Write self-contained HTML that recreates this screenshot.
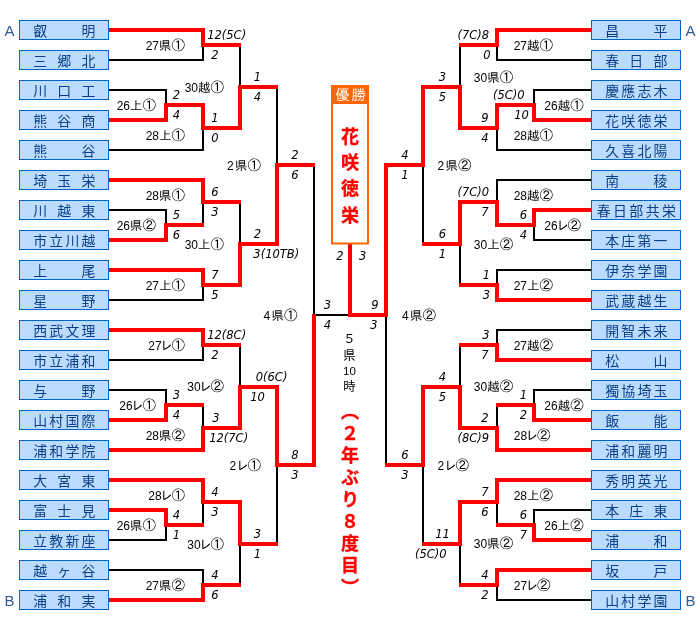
<!DOCTYPE html>
<html lang="ja"><head><meta charset="utf-8"><title>トーナメント表</title>
<style>
html,body{margin:0;padding:0;background:#fff}
body{width:700px;height:630px;position:relative;overflow:hidden;font-family:"Liberation Sans","Noto Sans CJK JP",sans-serif}
svg{position:absolute;left:0;top:0;display:block;will-change:transform}
svg text{font-family:"Liberation Sans","Noto Sans CJK JP",sans-serif}
.bx rect{fill:#bbdcff;stroke:#0066cc;stroke-width:1}
.nm text{font-size:13.9px;fill:#0b3f86;text-anchor:middle}
.ab text{font-size:15px;fill:#2a5c9a;text-anchor:middle}
.lb text{font-family:"IPAGothic","Liberation Sans","Noto Sans CJK JP",sans-serif;font-size:12.5px;fill:#000}
.lb .d{font-family:"Liberation Sans",sans-serif;font-size:12px}
.lb .c{font-size:13.5px}
.sc text{font-family:"DejaVu Sans","Liberation Sans",sans-serif;font-style:italic;font-size:11.5px;fill:#000}
.yu{font-family:"IPAGothic","Noto Sans CJK JP",sans-serif;font-size:14.5px;fill:#fff}
.ch{font-size:18px;font-weight:bold;fill:#ff0000;stroke:#ff0000;stroke-width:0.3px}
.v1{font-family:"Noto Sans CJK JP",sans-serif;font-size:12.3px;fill:#000}
.v1 .d{font-family:"Liberation Sans",sans-serif;font-size:11.5px}
.v2{will-change:transform;position:absolute;left:337.3px;top:401.9px;width:22px;height:200px;writing-mode:vertical-rl;font-size:18px;font-weight:bold;line-height:22px;letter-spacing:4.05px;color:#ff0000;white-space:nowrap;-webkit-text-stroke:0.3px #ff0000}
</style></head><body>
<svg width="700" height="630" viewBox="0 0 700 630">
<g fill="#000" shape-rendering="crispEdges">
<rect x="109" y="59" width="95" height="2"/>
<rect x="202" y="44" width="2" height="17"/>
<rect x="109" y="89" width="58" height="2"/>
<rect x="165" y="89" width="2" height="17"/>
<rect x="109" y="149" width="95" height="2"/>
<rect x="202" y="127" width="2" height="24"/>
<rect x="239" y="44" width="2" height="43.5"/>
<rect x="109" y="209" width="58" height="2"/>
<rect x="165" y="209" width="2" height="17"/>
<rect x="202" y="201" width="2" height="25"/>
<rect x="109" y="299" width="95" height="2"/>
<rect x="202" y="284" width="2" height="17"/>
<rect x="239" y="201" width="2" height="43.5"/>
<rect x="276" y="85.5" width="2" height="80.5"/>
<rect x="109" y="359" width="95" height="2"/>
<rect x="202" y="344" width="2" height="17"/>
<rect x="109" y="389" width="58" height="2"/>
<rect x="165" y="389" width="2" height="17"/>
<rect x="202" y="404" width="2" height="25"/>
<rect x="239" y="344" width="2" height="43.5"/>
<rect x="109" y="539" width="58" height="2"/>
<rect x="165" y="524" width="2" height="17"/>
<rect x="202" y="501" width="2" height="25"/>
<rect x="109" y="569" width="95" height="2"/>
<rect x="202" y="569" width="2" height="17"/>
<rect x="239" y="542.5" width="2" height="43.5"/>
<rect x="276" y="464" width="2" height="80.5"/>
<rect x="313" y="164" width="2" height="152"/>
<rect x="496" y="59" width="95" height="2"/>
<rect x="496" y="44" width="2" height="17"/>
<rect x="533" y="89" width="58" height="2"/>
<rect x="533" y="89" width="2" height="17"/>
<rect x="496" y="149" width="95" height="2"/>
<rect x="496" y="127" width="2" height="24"/>
<rect x="459" y="44" width="2" height="43.5"/>
<rect x="533" y="239" width="58" height="2"/>
<rect x="533" y="224" width="2" height="17"/>
<rect x="496" y="179" width="95" height="2"/>
<rect x="496" y="179" width="2" height="24"/>
<rect x="496" y="269" width="95" height="2"/>
<rect x="496" y="269" width="2" height="17"/>
<rect x="459" y="242.5" width="2" height="43.5"/>
<rect x="422" y="164" width="2" height="80.5"/>
<rect x="496" y="329" width="95" height="2"/>
<rect x="496" y="329" width="2" height="17"/>
<rect x="533" y="389" width="58" height="2"/>
<rect x="533" y="389" width="2" height="17"/>
<rect x="496" y="404" width="2" height="25"/>
<rect x="459" y="344" width="2" height="43.5"/>
<rect x="533" y="509" width="58" height="2"/>
<rect x="533" y="509" width="2" height="17"/>
<rect x="496" y="501" width="2" height="25"/>
<rect x="496" y="599" width="95" height="2"/>
<rect x="496" y="584" width="2" height="17"/>
<rect x="459" y="542.5" width="2" height="43.5"/>
<rect x="422" y="464" width="2" height="80.5"/>
<rect x="385" y="314" width="2" height="152"/>
<rect x="314" y="314" width="36" height="2"/>
</g><g fill="#f00" shape-rendering="crispEdges">
<rect x="109" y="28" width="96" height="4"/>
<rect x="201" y="28" width="4" height="19"/>
<rect x="109" y="118" width="59" height="4"/>
<rect x="164" y="103" width="4" height="19"/>
<rect x="166" y="103" width="39" height="4"/>
<rect x="201" y="103" width="4" height="27"/>
<rect x="203" y="43" width="38" height="4"/>
<rect x="203" y="126" width="39" height="4"/>
<rect x="238" y="84.5" width="4" height="45.5"/>
<rect x="109" y="238" width="59" height="4"/>
<rect x="164" y="223" width="4" height="19"/>
<rect x="109" y="178" width="96" height="4"/>
<rect x="201" y="178" width="4" height="26"/>
<rect x="166" y="223" width="38" height="4"/>
<rect x="109" y="268" width="96" height="4"/>
<rect x="201" y="268" width="4" height="19"/>
<rect x="203" y="200" width="38" height="4"/>
<rect x="203" y="283" width="39" height="4"/>
<rect x="238" y="241.5" width="4" height="45.5"/>
<rect x="240" y="84.5" width="38" height="4"/>
<rect x="240" y="241.5" width="39" height="4"/>
<rect x="275" y="163" width="4" height="82.5"/>
<rect x="109" y="328" width="96" height="4"/>
<rect x="201" y="328" width="4" height="19"/>
<rect x="109" y="418" width="59" height="4"/>
<rect x="164" y="403" width="4" height="19"/>
<rect x="166" y="403" width="38" height="4"/>
<rect x="109" y="448" width="96" height="4"/>
<rect x="201" y="426" width="4" height="26"/>
<rect x="203" y="343" width="38" height="4"/>
<rect x="203" y="426" width="39" height="4"/>
<rect x="238" y="384.5" width="4" height="45.5"/>
<rect x="109" y="508" width="59" height="4"/>
<rect x="164" y="508" width="4" height="19"/>
<rect x="109" y="478" width="96" height="4"/>
<rect x="201" y="478" width="4" height="26"/>
<rect x="166" y="523" width="38" height="4"/>
<rect x="109" y="598" width="96" height="4"/>
<rect x="201" y="583" width="4" height="19"/>
<rect x="203" y="500" width="39" height="4"/>
<rect x="238" y="500" width="4" height="45.5"/>
<rect x="203" y="583" width="38" height="4"/>
<rect x="240" y="384.5" width="39" height="4"/>
<rect x="275" y="384.5" width="4" height="82.5"/>
<rect x="240" y="541.5" width="38" height="4"/>
<rect x="277" y="163" width="38" height="4"/>
<rect x="277" y="463" width="39" height="4"/>
<rect x="312" y="314" width="4" height="153"/>
<rect x="495" y="28" width="96" height="4"/>
<rect x="495" y="28" width="4" height="19"/>
<rect x="532" y="118" width="59" height="4"/>
<rect x="532" y="103" width="4" height="19"/>
<rect x="495" y="103" width="39" height="4"/>
<rect x="495" y="103" width="4" height="27"/>
<rect x="459" y="43" width="38" height="4"/>
<rect x="458" y="126" width="39" height="4"/>
<rect x="458" y="84.5" width="4" height="45.5"/>
<rect x="532" y="208" width="59" height="4"/>
<rect x="532" y="208" width="4" height="19"/>
<rect x="495" y="223" width="39" height="4"/>
<rect x="495" y="200" width="4" height="27"/>
<rect x="495" y="298" width="96" height="4"/>
<rect x="495" y="283" width="4" height="19"/>
<rect x="458" y="200" width="39" height="4"/>
<rect x="458" y="200" width="4" height="45.5"/>
<rect x="459" y="283" width="38" height="4"/>
<rect x="421" y="84.5" width="39" height="4"/>
<rect x="421" y="84.5" width="4" height="82.5"/>
<rect x="422" y="241.5" width="38" height="4"/>
<rect x="495" y="358" width="96" height="4"/>
<rect x="495" y="343" width="4" height="19"/>
<rect x="532" y="418" width="59" height="4"/>
<rect x="532" y="403" width="4" height="19"/>
<rect x="496" y="403" width="38" height="4"/>
<rect x="495" y="448" width="96" height="4"/>
<rect x="495" y="426" width="4" height="26"/>
<rect x="459" y="343" width="38" height="4"/>
<rect x="458" y="426" width="39" height="4"/>
<rect x="458" y="384.5" width="4" height="45.5"/>
<rect x="532" y="538" width="59" height="4"/>
<rect x="532" y="523" width="4" height="19"/>
<rect x="495" y="478" width="96" height="4"/>
<rect x="495" y="478" width="4" height="26"/>
<rect x="496" y="523" width="38" height="4"/>
<rect x="495" y="568" width="96" height="4"/>
<rect x="495" y="568" width="4" height="19"/>
<rect x="458" y="500" width="39" height="4"/>
<rect x="458" y="500" width="4" height="45.5"/>
<rect x="459" y="583" width="38" height="4"/>
<rect x="421" y="384.5" width="39" height="4"/>
<rect x="421" y="384.5" width="4" height="82.5"/>
<rect x="422" y="541.5" width="38" height="4"/>
<rect x="384" y="163" width="39" height="4"/>
<rect x="384" y="163" width="4" height="154"/>
<rect x="385" y="463" width="38" height="4"/>
<rect x="348" y="313" width="40" height="4"/>
<rect x="348" y="244" width="4" height="73"/>
</g>
<g class="bx">
<rect x="19.5" y="20.5" width="89" height="19"/>
<rect x="591.5" y="20.5" width="89" height="19"/>
<rect x="19.5" y="50.5" width="89" height="19"/>
<rect x="591.5" y="50.5" width="89" height="19"/>
<rect x="19.5" y="80.5" width="89" height="19"/>
<rect x="591.5" y="80.5" width="89" height="19"/>
<rect x="19.5" y="110.5" width="89" height="19"/>
<rect x="591.5" y="110.5" width="89" height="19"/>
<rect x="19.5" y="140.5" width="89" height="19"/>
<rect x="591.5" y="140.5" width="89" height="19"/>
<rect x="19.5" y="170.5" width="89" height="19"/>
<rect x="591.5" y="170.5" width="89" height="19"/>
<rect x="19.5" y="200.5" width="89" height="19"/>
<rect x="591.5" y="200.5" width="89" height="19"/>
<rect x="19.5" y="230.5" width="89" height="19"/>
<rect x="591.5" y="230.5" width="89" height="19"/>
<rect x="19.5" y="260.5" width="89" height="19"/>
<rect x="591.5" y="260.5" width="89" height="19"/>
<rect x="19.5" y="290.5" width="89" height="19"/>
<rect x="591.5" y="290.5" width="89" height="19"/>
<rect x="19.5" y="320.5" width="89" height="19"/>
<rect x="591.5" y="320.5" width="89" height="19"/>
<rect x="19.5" y="350.5" width="89" height="19"/>
<rect x="591.5" y="350.5" width="89" height="19"/>
<rect x="19.5" y="380.5" width="89" height="19"/>
<rect x="591.5" y="380.5" width="89" height="19"/>
<rect x="19.5" y="410.5" width="89" height="19"/>
<rect x="591.5" y="410.5" width="89" height="19"/>
<rect x="19.5" y="440.5" width="89" height="19"/>
<rect x="591.5" y="440.5" width="89" height="19"/>
<rect x="19.5" y="470.5" width="89" height="19"/>
<rect x="591.5" y="470.5" width="89" height="19"/>
<rect x="19.5" y="500.5" width="89" height="19"/>
<rect x="591.5" y="500.5" width="89" height="19"/>
<rect x="19.5" y="530.5" width="89" height="19"/>
<rect x="591.5" y="530.5" width="89" height="19"/>
<rect x="19.5" y="560.5" width="89" height="19"/>
<rect x="591.5" y="560.5" width="89" height="19"/>
<rect x="19.5" y="590.5" width="89" height="19"/>
<rect x="591.5" y="590.5" width="89" height="19"/>
</g>
<g class="nm">
<text x="40.15 88.45" y="35.7">叡明</text>
<text x="612.15 660.45" y="35.7">昌平</text>
<text x="40.15 64.3 88.45" y="65.7">三郷北</text>
<text x="612.15 636.3 660.45" y="65.7">春日部</text>
<text x="40.15 64.3 88.45" y="95.7">川口工</text>
<text x="612.15 628.25 644.35 660.45" y="95.7">慶應志木</text>
<text x="40.15 64.3 88.45" y="125.7">熊谷商</text>
<text x="612.15 628.25 644.35 660.45" y="125.7">花咲徳栄</text>
<text x="40.15 88.45" y="155.7">熊谷</text>
<text x="612.15 628.25 644.35 660.45" y="155.7">久喜北陽</text>
<text x="40.15 64.3 88.45" y="185.7">埼玉栄</text>
<text x="612.15 660.45" y="185.7">南稜</text>
<text x="40.15 64.3 88.45" y="215.7">川越東</text>
<text x="603.7 620 636.3 652.6 668.9" y="215.7">春日部共栄</text>
<text x="40.15 56.25 72.35 88.45" y="245.7">市立川越</text>
<text x="612.15 628.25 644.35 660.45" y="245.7">本庄第一</text>
<text x="40.15 88.45" y="275.7">上尾</text>
<text x="612.15 628.25 644.35 660.45" y="275.7">伊奈学園</text>
<text x="40.15 88.45" y="305.7">星野</text>
<text x="612.15 628.25 644.35 660.45" y="305.7">武蔵越生</text>
<text x="40.15 56.25 72.35 88.45" y="335.7">西武文理</text>
<text x="612.15 628.25 644.35 660.45" y="335.7">開智未来</text>
<text x="40.15 56.25 72.35 88.45" y="365.7">市立浦和</text>
<text x="612.15 660.45" y="365.7">松山</text>
<text x="40.15 88.45" y="395.7">与野</text>
<text x="612.15 628.25 644.35 660.45" y="395.7">獨協埼玉</text>
<text x="40.15 56.25 72.35 88.45" y="425.7">山村国際</text>
<text x="612.15 660.45" y="425.7">飯能</text>
<text x="40.15 56.25 72.35 88.45" y="455.7">浦和学院</text>
<text x="612.15 628.25 644.35 660.45" y="455.7">浦和麗明</text>
<text x="40.15 64.3 88.45" y="485.7">大宮東</text>
<text x="612.15 628.25 644.35 660.45" y="485.7">秀明英光</text>
<text x="40.15 64.3 88.45" y="515.7">富士見</text>
<text x="612.15 636.3 660.45" y="515.7">本庄東</text>
<text x="40.15 56.25 72.35 88.45" y="545.7">立教新座</text>
<text x="612.15 660.45" y="545.7">浦和</text>
<text x="40.15 64.3 88.45" y="575.7">越ヶ谷</text>
<text x="612.15 660.45" y="575.7">坂戸</text>
<text x="40.15 64.3 88.45" y="605.7">浦和実</text>
<text x="612.15 628.25 644.35 660.45" y="605.7">山村学園</text>
</g>
<g class="ab"><text x="9.4" y="36">A</text><text x="690.5" y="36">A</text><text x="9.4" y="606">B</text><text x="690.5" y="606">B</text></g>
<g class="lb">
<text x="185" y="49.5" text-anchor="end"><tspan class="d">27</tspan>県<tspan class="c">①</tspan></text>
<text x="156" y="109.5" text-anchor="end"><tspan class="d">26</tspan>上<tspan class="c">①</tspan></text>
<text x="185" y="139.5" text-anchor="end"><tspan class="d">28</tspan>上<tspan class="c">①</tspan></text>
<text x="224" y="92" text-anchor="end"><tspan class="d">30</tspan>越<tspan class="c">①</tspan></text>
<text x="156" y="229.5" text-anchor="end"><tspan class="d">26</tspan>県<tspan class="c">②</tspan></text>
<text x="185" y="199.5" text-anchor="end"><tspan class="d">28</tspan>県<tspan class="c">①</tspan></text>
<text x="185" y="289.5" text-anchor="end"><tspan class="d">27</tspan>上<tspan class="c">①</tspan></text>
<text x="224" y="249" text-anchor="end"><tspan class="d">30</tspan>上<tspan class="c">①</tspan></text>
<text x="261" y="169.5" text-anchor="end" dx="0 1.4 0"><tspan class="d">2</tspan>県<tspan class="c">①</tspan></text>
<text x="185" y="349.5" text-anchor="end" dx="0 0 -1.3 -1.3"><tspan class="d">27</tspan>レ<tspan class="c">①</tspan></text>
<text x="156" y="409.5" text-anchor="end" dx="0 0 -1.3 -1.3"><tspan class="d">26</tspan>レ<tspan class="c">①</tspan></text>
<text x="185" y="439.5" text-anchor="end"><tspan class="d">28</tspan>県<tspan class="c">②</tspan></text>
<text x="224" y="391" text-anchor="end" dx="0 0 -1.3 -1.3"><tspan class="d">30</tspan>レ<tspan class="c">②</tspan></text>
<text x="156" y="529.5" text-anchor="end"><tspan class="d">26</tspan>県<tspan class="c">①</tspan></text>
<text x="185" y="499.5" text-anchor="end" dx="0 0 -1.3 -1.3"><tspan class="d">28</tspan>レ<tspan class="c">①</tspan></text>
<text x="185" y="589.5" text-anchor="end"><tspan class="d">27</tspan>県<tspan class="c">②</tspan></text>
<text x="224" y="549" text-anchor="end" dx="0 0 -1.3 -1.3"><tspan class="d">30</tspan>レ<tspan class="c">①</tspan></text>
<text x="261" y="469.5" text-anchor="end" dx="0 0.1 -1.3"><tspan class="d">2</tspan>レ<tspan class="c">①</tspan></text>
<text x="297.5" y="319.5" text-anchor="end" dx="0 1.4 0"><tspan class="d">4</tspan>県<tspan class="c">①</tspan></text>
<text x="513.7" y="49.5" text-anchor="start"><tspan class="d">27</tspan>越<tspan class="c">①</tspan></text>
<text x="544.3" y="109.5" text-anchor="start"><tspan class="d">26</tspan>越<tspan class="c">①</tspan></text>
<text x="513.7" y="139.5" text-anchor="start"><tspan class="d">28</tspan>越<tspan class="c">①</tspan></text>
<text x="473.8" y="82" text-anchor="start"><tspan class="d">30</tspan>県<tspan class="c">①</tspan></text>
<text x="544.3" y="229.5" text-anchor="start" dx="0 0 -1.3 -1.3"><tspan class="d">26</tspan>レ<tspan class="c">②</tspan></text>
<text x="513.7" y="199.5" text-anchor="start"><tspan class="d">28</tspan>越<tspan class="c">②</tspan></text>
<text x="513.7" y="289.5" text-anchor="start"><tspan class="d">27</tspan>上<tspan class="c">②</tspan></text>
<text x="473.8" y="249" text-anchor="start"><tspan class="d">30</tspan>上<tspan class="c">②</tspan></text>
<text x="437.5" y="169.5" text-anchor="start" dx="0 1.4 0"><tspan class="d">2</tspan>県<tspan class="c">②</tspan></text>
<text x="513.7" y="349.5" text-anchor="start"><tspan class="d">27</tspan>越<tspan class="c">②</tspan></text>
<text x="544.3" y="409.5" text-anchor="start"><tspan class="d">26</tspan>越<tspan class="c">②</tspan></text>
<text x="513.7" y="439.5" text-anchor="start" dx="0 0 -1.3 -1.3"><tspan class="d">28</tspan>レ<tspan class="c">②</tspan></text>
<text x="473.8" y="391" text-anchor="start"><tspan class="d">30</tspan>越<tspan class="c">②</tspan></text>
<text x="544.3" y="529.5" text-anchor="start"><tspan class="d">26</tspan>上<tspan class="c">②</tspan></text>
<text x="513.7" y="499.5" text-anchor="start"><tspan class="d">28</tspan>上<tspan class="c">②</tspan></text>
<text x="513.7" y="589.5" text-anchor="start" dx="0 0 -1.3 -1.3"><tspan class="d">27</tspan>レ<tspan class="c">②</tspan></text>
<text x="473.8" y="548" text-anchor="start"><tspan class="d">30</tspan>県<tspan class="c">②</tspan></text>
<text x="437.5" y="469.5" text-anchor="start" dx="0 0.1 -1.3"><tspan class="d">2</tspan>レ<tspan class="c">②</tspan></text>
<text x="402" y="319.5" text-anchor="start" dx="0 1.4 0"><tspan class="d">4</tspan>県<tspan class="c">②</tspan></text>
</g>
<g class="sc">
<text x="207.2" y="39" text-anchor="start">12(5C)</text>
<text x="215" y="59" text-anchor="middle">2</text>
<text x="176.5" y="99" text-anchor="middle">2</text>
<text x="176.5" y="119" text-anchor="middle">4</text>
<text x="215" y="122" text-anchor="middle">1</text>
<text x="215" y="142" text-anchor="middle">0</text>
<text x="257.5" y="80.5" text-anchor="middle">1</text>
<text x="257.5" y="100.5" text-anchor="middle">4</text>
<text x="176.5" y="219" text-anchor="middle">5</text>
<text x="176.5" y="239" text-anchor="middle">6</text>
<text x="215" y="196" text-anchor="middle">6</text>
<text x="215" y="216" text-anchor="middle">3</text>
<text x="215" y="279" text-anchor="middle">7</text>
<text x="215" y="299" text-anchor="middle">5</text>
<text x="257.5" y="237.5" text-anchor="middle">2</text>
<text x="253.35" y="257.5" text-anchor="start">3(10TB)</text>
<text x="295" y="159" text-anchor="middle">2</text>
<text x="295" y="179" text-anchor="middle">6</text>
<text x="207.2" y="339" text-anchor="start">12(8C)</text>
<text x="215" y="359" text-anchor="middle">2</text>
<text x="176.5" y="399" text-anchor="middle">3</text>
<text x="176.5" y="419" text-anchor="middle">4</text>
<text x="216" y="422" text-anchor="middle">3</text>
<text x="209.2" y="442" text-anchor="start">12(7C)</text>
<text x="255.75" y="380.5" text-anchor="start">0(6C)</text>
<text x="257.5" y="400.5" text-anchor="middle">10</text>
<text x="176.5" y="519" text-anchor="middle">4</text>
<text x="176.5" y="539" text-anchor="middle">1</text>
<text x="215" y="496" text-anchor="middle">4</text>
<text x="215" y="516" text-anchor="middle">3</text>
<text x="215" y="579" text-anchor="middle">4</text>
<text x="215" y="599" text-anchor="middle">6</text>
<text x="257.5" y="537.5" text-anchor="middle">3</text>
<text x="257.5" y="557.5" text-anchor="middle">1</text>
<text x="295" y="459" text-anchor="middle">8</text>
<text x="295" y="479" text-anchor="middle">3</text>
<text x="327.5" y="309" text-anchor="middle">3</text>
<text x="327.5" y="329" text-anchor="middle">4</text>
<text x="489.15" y="39" text-anchor="end">(7C)8</text>
<text x="487" y="59" text-anchor="middle">0</text>
<text x="524.65" y="99" text-anchor="end">(5C)0</text>
<text x="521.5" y="119" text-anchor="middle">10</text>
<text x="485" y="122" text-anchor="middle">9</text>
<text x="485" y="142" text-anchor="middle">4</text>
<text x="442.5" y="80.5" text-anchor="middle">3</text>
<text x="442.5" y="100.5" text-anchor="middle">5</text>
<text x="523.5" y="219" text-anchor="middle">6</text>
<text x="523.5" y="239" text-anchor="middle">4</text>
<text x="489.15" y="196" text-anchor="end">(7C)0</text>
<text x="485" y="216" text-anchor="middle">7</text>
<text x="486.5" y="279" text-anchor="middle">1</text>
<text x="486.5" y="299" text-anchor="middle">3</text>
<text x="442.5" y="237.5" text-anchor="middle">6</text>
<text x="442.5" y="257.5" text-anchor="middle">1</text>
<text x="405" y="159" text-anchor="middle">4</text>
<text x="405" y="179" text-anchor="middle">1</text>
<text x="486" y="339" text-anchor="middle">3</text>
<text x="485" y="359" text-anchor="middle">7</text>
<text x="523.5" y="399" text-anchor="middle">1</text>
<text x="523.5" y="419" text-anchor="middle">2</text>
<text x="485" y="422" text-anchor="middle">2</text>
<text x="489.15" y="442" text-anchor="end">(8C)9</text>
<text x="442.5" y="380.5" text-anchor="middle">4</text>
<text x="442.5" y="400.5" text-anchor="middle">5</text>
<text x="523.5" y="519" text-anchor="middle">6</text>
<text x="523.5" y="539" text-anchor="middle">7</text>
<text x="485" y="496" text-anchor="middle">7</text>
<text x="485" y="516" text-anchor="middle">6</text>
<text x="485" y="579" text-anchor="middle">4</text>
<text x="485" y="599" text-anchor="middle">2</text>
<text x="442.5" y="537.5" text-anchor="middle">11</text>
<text x="446.65" y="557.5" text-anchor="end">(5C)0</text>
<text x="405" y="459" text-anchor="middle">6</text>
<text x="405" y="479" text-anchor="middle">3</text>
<text x="375" y="309" text-anchor="middle">9</text>
<text x="374" y="329" text-anchor="middle">3</text>
<text x="340" y="260" text-anchor="middle">2</text><text x="362.7" y="260" text-anchor="middle">3</text>
</g>
<rect x="332" y="86" width="36" height="157.5" fill="#fff" stroke="#ff6600" stroke-width="2"/>
<rect x="331" y="85" width="38" height="19" fill="#ff6600"/>
<text class="yu" x="335.3 351.5" y="100">優勝</text>
<text class="ch" x="350 350 350 350" y="142.5 168.9 195.2 221.5" text-anchor="middle">花咲徳栄</text>
<text class="v1" x="349.5 349.5 346.2 352.6 349.5" y="342.9 359.5 374.6 374.6 391" text-anchor="middle">５県<tspan class="d">10</tspan>時</text>
</svg>
<div class="v2">（２年ぶり８度目）</div>
</body></html>
